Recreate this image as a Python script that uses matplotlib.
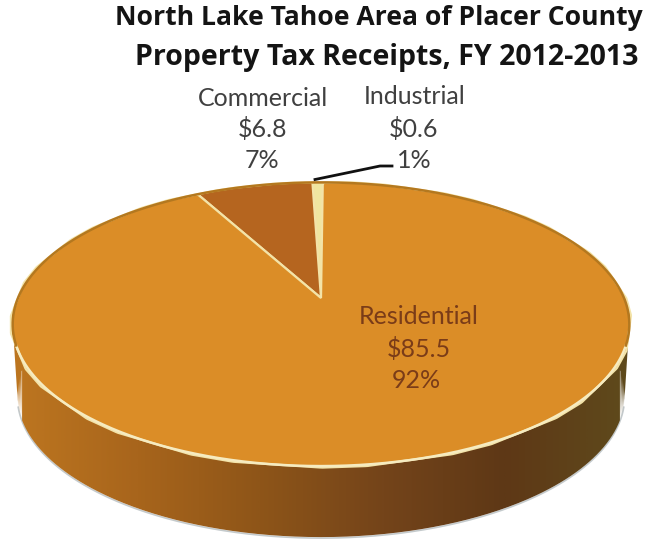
import numpy as np
import matplotlib
matplotlib.use("Agg")
import matplotlib.pyplot as plt
from matplotlib.patches import PathPatch
from matplotlib.path import Path
from matplotlib.colors import LinearSegmentedColormap

categories = ["Industrial", "Commercial", "Residential"]
values = [0.6, 6.8, 85.5]
percents = ["1%", "7%", "92%"]
title_lines = ["North Lake Tahoe Area of Placer County", "Property Tax Receipts, FY 2012-2013"]
slice_colors = ["#F0E5A0", "#B5651F", "#DB8D27"]
side_stops = ["#BD7620", "#A8651C", "#8E5518", "#74441A", "#5E3816", "#5F4A1C"]

W, H = 645, 544
APEX = (321.0, 298.0)
A, B, K = 137.0, 303.0, 0.185
DEPTH = 71.0

def project(xy):
    xy = np.asarray(xy, float)
    d = 1 + K * xy[:, 1]
    return np.column_stack([APEX[0] + B * xy[:, 0] / d, APEX[1] - A * xy[:, 1] / d])

fig = plt.figure(figsize=(W / 100, H / 100), dpi=100, facecolor="white")
ax = fig.add_axes([0, 0, 1, 1])
wedges, _ = ax.pie(values, startangle=89.6, counterclock=True, colors=slice_colors, radius=1)

t = np.linspace(0, 2 * np.pi, 721)
rim = project(np.column_stack([np.cos(t), np.sin(t)]))
lower = rim[(t > np.pi) & (t < 2 * np.pi)]
lower = lower[lower[:, 0].argsort()]

ax.set_aspect("auto")
ax.set_xlim(0, W)
ax.set_ylim(H, 0)
ax.axis("off")

# Side wall of the pie
side_low = lower.copy()
side_low[:, 1] += DEPTH
side_low[:, 0] = APEX[0] + (side_low[:, 0] - APEX[0]) * 0.985
side_xy = np.vstack([lower, side_low[::-1]])
cmap = LinearSegmentedColormap.from_list("side", side_stops)
grad = np.linspace(0, 1, 400).reshape(1, -1)
im = ax.imshow(grad, extent=(12, 630, 560, 300), cmap=cmap, aspect="auto", zorder=2)
ax.set_xlim(0, W)
ax.set_ylim(H, 0)
clip = PathPatch(Path(side_xy, closed=False), transform=ax.transData, fc="none", ec="none")
ax.add_patch(clip)
im.set_clip_path(clip)
low_mask = side_low[:, 1] > 405
ax.plot(side_low[low_mask, 0], side_low[low_mask, 1] + 1, color="#C4CACC", lw=1.2, zorder=1)

# Top face: pie wedges reprojected into perspective
for w, c in zip(wedges, slice_colors):
    polys = w.get_path().interpolated(24).to_polygons(closed_only=False)
    pts = project(polys[0])
    w.remove()
    ax.add_patch(PathPatch(Path(pts), fc=c, ec="#F3E3A8", lw=1.6, zorder=3, joinstyle="miter"))
idx = np.where(rim[:, 1] > 345)[0]
ax.plot(rim[idx, 0], rim[idx, 1], color="#F6EBC0", lw=1.8, zorder=4)
back = np.r_[rim[idx[-1]:], rim[1:idx[0] + 1]]
ax.plot(back[:, 0], back[:, 1], color="#B4781F", lw=1.8, zorder=4)

# Leader line
ax.plot([392, 380, 315], [166, 166, 179.5], color="#111111", lw=2, zorder=5)

label = dict(ha="center", va="center", family="Lato", fontsize=18, zorder=6)
dark = "#404040"
ax.text(263, 99, categories[1], color=dark, **label)
ax.text(263, 129, f"${values[1]}", color=dark, **label)
ax.text(262, 161, percents[1], color=dark, **label)
ax.text(415, 97, categories[0], color=dark, **label)
ax.text(414, 129, f"${values[0]}", color=dark, **label)
ax.text(414, 161, percents[0], color=dark, **label)
brown = "#7A3C18"
ax.text(419, 316, categories[2], color=brown, **label)
ax.text(419, 349, f"${values[2]}", color=brown, **label)
ax.text(416, 381, percents[2], color=brown, **label)

tk = dict(ha="center", va="center", family="Open Sans", fontweight="bold", color="#141414")
ax.text(379, 18, title_lines[0], fontsize=19.1, **tk)
ax.text(387, 57, title_lines[1], fontsize=20.5, **tk)

fig.savefig("out.png", dpi=100)
